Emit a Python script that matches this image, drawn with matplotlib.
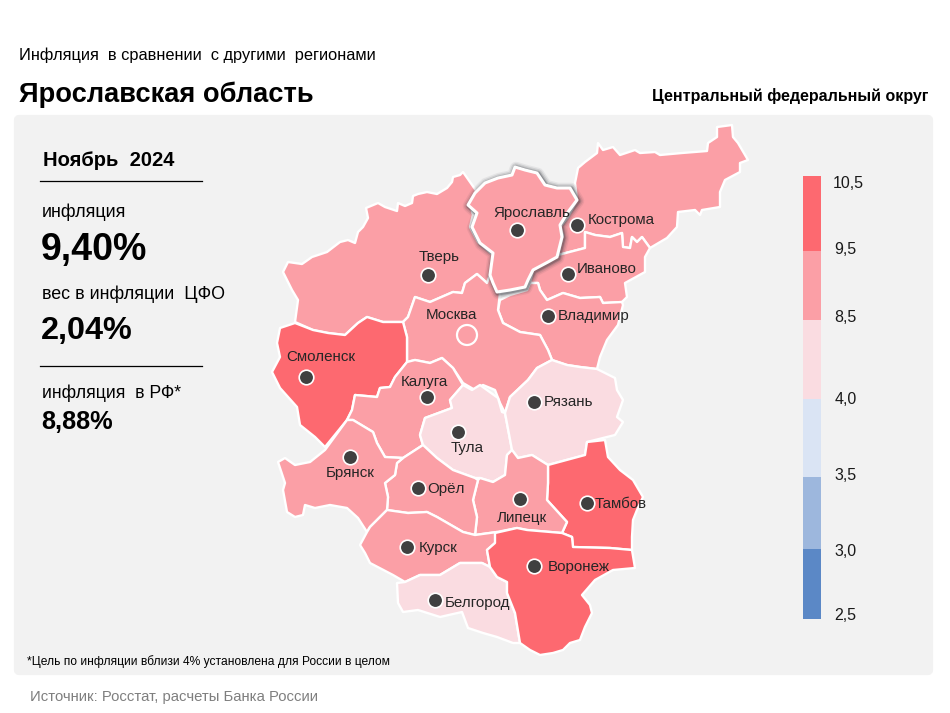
import matplotlib
matplotlib.use("Agg")
import matplotlib.pyplot as plt
from matplotlib.patches import Polygon, FancyBboxPatch, Rectangle, Circle
from matplotlib.colors import ListedColormap, BoundaryNorm

plt.rcParams['font.family'] = ['Liberation Sans', 'DejaVu Sans']

# ---------- data ----------
bin_edges = [2.5, 3.0, 3.5, 4.0, 8.5, 9.5, 10.5]
bin_labels = ['2,5', '3,0', '3,5', '4,0', '8,5', '9,5', '10,5']
bin_colors = ['#5B88C6', '#9DB7DD', '#DAE4F4', '#FADCE1', '#FB9FA6', '#FD6970']

regions = ['Тверь', 'Ярославль', 'Кострома', 'Иваново', 'Владимир', 'Москва', 'Смоленск',
           'Калуга', 'Тула', 'Рязань', 'Тамбов', 'Липецк', 'Орёл', 'Брянск', 'Курск',
           'Белгород', 'Воронеж']
values = [9.0, 9.40, 9.0, 9.0, 9.0, 9.0, 9.8, 9.0, 8.2, 8.2, 9.8, 9.0, 9.0, 9.0, 9.0, 8.2, 9.8]

outlines = {
 'Тверь': [(463,172),(460,175),(453,177),(452,182),(447,188),(437,194),(427,192),(418,194),(413,196),(412,203),(405,206),(398,203),(397,211),(385,207),(378,203),(366,208),(368,218),(363,227),(358,232),(355,243),(348,240),(340,242),(327,252),(312,257),(302,264),(288,262),(283,272),(292,290),(298,300),(295,322),(313,330),(328,333),(345,335),(358,323),(367,317),(383,322),(403,322),(408,317),(415,297),(430,302),(453,292),(462,293),(465,283),(477,274),(487,283),(492,273),(493,255),(478,242),(470,227),(473,215),(470,203),(477,192)],
 'Ярославль': [(468,205),(475,193),(485,183),(498,178),(512,175),(515,167),(525,170),(537,173),(545,185),(557,188),(570,188),(577,200),(568,212),(560,225),(562,237),(557,257),(548,262),(533,270),(528,280),(525,287),(510,290),(497,292),(493,283),(490,275),(493,253),(480,243),(472,227),(477,213)],
 'Кострома': [(577,200),(575,183),(578,168),(585,162),(597,153),(598,143),(603,150),(613,147),(620,155),(635,150),(640,153),(655,152),(660,155),(682,153),(707,151),(708,143),(717,137),(717,127),(732,125),(733,137),(738,143),(748,160),(740,163),(740,172),(725,180),(720,192),(720,207),(702,210),(700,215),(695,210),(678,212),(677,227),(667,238),(650,248),(642,237),(637,242),(632,237),(630,248),(623,247),(622,233),(610,237),(595,235),(585,232),(585,248),(558,255),(563,235),(560,227),(568,217)],
 'Иваново': [(558,255),(585,248),(585,232),(595,235),(610,237),(622,233),(623,247),(630,248),(632,237),(637,242),(642,237),(650,248),(645,257),(645,272),(625,283),(627,297),(622,302),(603,303),(600,297),(580,298),(563,293),(547,300),(540,290),(538,283),(530,283),(533,270)],
 'Владимир': [(510,295),(527,290),(530,283),(538,283),(540,290),(547,300),(563,293),(580,298),(600,297),(603,303),(622,302),(623,305),(618,325),(607,340),(600,357),(597,369),(580,367),(567,365),(552,360),(548,350),(540,335),(520,332),(503,323),(498,310),(500,300)],
 'Москва': [(415,297),(430,302),(453,292),(462,293),(465,283),(477,274),(487,283),(490,275),(500,293),(498,310),(503,323),(520,332),(540,335),(548,350),(552,360),(537,368),(528,380),(510,397),(505,413),(500,403),(495,390),(483,385),(475,390),(463,383),(453,368),(442,358),(430,363),(415,360),(407,362),(407,337),(403,322),(408,317)],
 'Смоленск': [(280,328),(295,323),(313,330),(328,333),(345,335),(358,323),(367,317),(383,322),(403,322),(407,337),(407,362),(395,377),(390,387),(380,388),(377,397),(355,395),(352,410),(347,420),(325,447),(315,437),(300,425),(297,407),(280,388),(272,372),(280,357),(277,343)],
 'Калуга': [(407,362),(415,360),(430,363),(442,358),(453,368),(463,385),(450,400),(452,408),(425,418),(420,435),(423,445),(403,458),(385,457),(377,443),(373,432),(353,420),(347,420),(352,410),(355,395),(377,397),(380,388),(390,387),(395,377)],
 'Тула': [(425,418),(452,408),(450,400),(463,385),(472,390),(480,385),(498,398),(502,412),(505,413),(512,450),(507,455),(505,475),(493,482),(480,478),(475,478),(453,470),(437,458),(423,445),(420,435)],
 'Рязань': [(510,397),(528,380),(537,368),(552,360),(567,365),(580,367),(597,369),(615,378),(617,390),(623,400),(617,417),(623,422),(615,435),(587,442),(585,455),(548,465),(532,455),(518,458),(512,450),(505,413)],
 'Тамбов': [(587,442),(605,440),(608,457),(620,470),(633,480),(643,497),(637,510),(633,520),(632,537),(632,550),(610,548),(573,547),(572,537),(562,533),(567,522),(547,500),(548,483),(548,465),(585,455)],
 'Липецк': [(480,478),(493,482),(505,475),(507,455),(512,450),(518,458),(532,455),(548,465),(548,483),(547,500),(567,522),(562,533),(527,530),(517,528),(497,532),(475,535),(477,517),(473,500),(478,480)],
 'Орёл': [(397,463),(403,458),(423,445),(437,458),(453,470),(475,478),(478,480),(473,500),(477,517),(475,535),(463,532),(437,517),(427,512),(408,513),(387,510),(388,497),(385,483),(395,475)],
 'Брянск': [(347,420),(353,420),(373,432),(377,443),(385,457),(403,458),(397,463),(395,475),(385,483),(388,497),(387,510),(370,527),(367,532),(358,518),(347,508),(330,505),(315,508),(305,505),(303,515),(295,517),(287,512),(283,490),(285,483),(278,462),(285,458),(295,465),(310,462),(325,450)],
 'Курск': [(367,532),(370,527),(387,510),(408,513),(427,512),(437,517),(463,532),(475,535),(497,532),(495,543),(487,550),(490,567),(482,563),(460,563),(440,575),(420,575),(405,582),(393,575),(370,563),(365,553),(360,545)],
 'Белгород': [(397,583),(405,582),(420,575),(440,575),(460,563),(482,563),(490,567),(497,577),(507,582),(507,593),(515,613),(520,643),(513,643),(497,637),(483,633),(468,628),(462,612),(440,617),(418,610),(403,612),(398,603)],
 'Воронеж': [(495,533),(517,528),(527,530),(562,533),(572,537),(573,547),(610,548),(632,550),(635,568),(613,570),(595,580),(582,595),(590,605),(592,613),(585,627),(580,640),(570,643),(563,650),(553,653),(540,655),(530,650),(520,643),(515,613),(507,593),(507,582),(497,577),(490,567),(487,550),(495,543)],
}

cities = ['Ярославль','Кострома','Иваново','Тверь','Владимир','Смоленск','Калуга','Рязань','Тула','Брянск','Орёл','Липецк','Тамбов','Курск','Воронеж','Белгород']
city_x = [517,577,568,428,548,306,427,534,458,350,418,520,587,407,534,435]
city_y = [230,225,274,275,316,377,397,402,432,457,488,499,503,547,566,600]
label_x = [493,588,577,419,558,286,401,544,451,326,427,497,595,419,548,445]
label_y = [213,220,269,257,316,357,382,402,448,473,489,518,504,548,567,603]

capital_x, capital_y = 467, 335
capital_label = 'Москва'

# ---------- figure ----------
fig = plt.figure(figsize=(9.5, 7.13), dpi=100)
ax = fig.add_axes([0, 0, 1, 1])
ax.set_xlim(0, 950); ax.set_ylim(713, 0); ax.axis('off')

ax.add_patch(FancyBboxPatch((16, 117), 915, 556, boxstyle='round,pad=0,rounding_size=3',
                            fc='#F2F2F2', ec='#F2F2F2', lw=3, zorder=0))

cmap = ListedColormap(bin_colors)
norm = BoundaryNorm(bin_edges, cmap.N)
val = dict(zip(regions, values))

for r in regions:
    if r == 'Ярославль':
        continue
    ax.add_patch(Polygon(outlines[r], closed=True, fc=cmap(norm(val[r])), ec='white',
                         lw=1.7, joinstyle='round', zorder=2))

# highlighted region with a soft shadow
yar = outlines['Ярославль']
for lw, a, dx, dy in [(9, .07, 1, 1), (7, .12, 1, 1), (5, .18, 1, 1), (3.5, .3, 1, 1)]:
    ax.add_patch(Polygon([(x + dx, y + dy) for x, y in yar], closed=True, fc='none',
                         ec=(0.2, 0.22, 0.25, a), lw=lw, joinstyle='round', zorder=3))
ax.add_patch(Polygon(yar, closed=True, fc=cmap(norm(val['Ярославль'])), ec='white',
                     lw=2.2, joinstyle='round', zorder=4))

# cities
ax.scatter(city_x, city_y, s=110, c='#404040', edgecolors='white', linewidths=1.2, zorder=5)
ax.add_patch(Circle((capital_x, capital_y), 10, fc='none', ec='white', lw=1.6, zorder=5))
for n, x, y in zip(cities, label_x, label_y):
    ax.text(x, y, n, fontsize=10.9, color='#262626', ha='left', va='center', zorder=6)
ax.text(426, 315, capital_label, fontsize=10.9, color='#262626', ha='left', va='center', zorder=6)

# legend
leg_edges_px = [619, 549, 477, 399, 320, 251, 176]
leg_label_y = [615, 552, 476, 400, 318, 250, 183]
leg_label_x = [834, 834, 834, 835, 834, 834, 833]
for i, c in enumerate(bin_colors):
    ax.add_patch(Rectangle((803, leg_edges_px[i + 1]), 18, leg_edges_px[i] - leg_edges_px[i + 1],
                           fc=c, ec='none', zorder=2))
for t, x, y in zip(bin_labels, leg_label_x, leg_label_y):
    ax.text(x, y, t, fontsize=11.5, color='#1a1a1a', ha='left', va='center')

# header
ax.text(19, 55, 'Инфляция  в сравнении  с другими  регионами', fontsize=11.75, color='black', va='center')
ax.text(19, 95, 'Ярославская область', fontsize=19.6, fontweight='bold', color='black', va='center')
ax.text(928, 96, 'Центральный федеральный округ', fontsize=11.55, fontweight='bold', color='black', va='center', ha='right')

# left panel
ax.text(43, 160, 'Ноябрь  2024', fontsize=14.5, fontweight='bold', color='black', va='center')
ax.plot([40, 202], [181, 181], color='black', lw=0.9)
ax.text(42, 212, 'инфляция', fontsize=12.9, color='black', va='center')
ax.text(41, 250, '9,40%', fontsize=27, fontweight='bold', color='black', va='center')
ax.text(42, 294, 'вес в инфляции  ЦФО', fontsize=12.9, color='black', va='center')
ax.text(41, 331, '2,04%', fontsize=23.3, fontweight='bold', color='black', va='center')
ax.plot([40, 202], [366, 366], color='black', lw=0.9)
ax.text(42, 393, 'инфляция  в РФ*', fontsize=12.7, color='black', va='center')
ax.text(41, 422, '8,88%', fontsize=18.3, fontweight='bold', color='black', va='center')

# footer
ax.text(27, 662, '*Цель по инфляции вблизи 4% установлена для России в целом', fontsize=8.67, color='black', va='center')
ax.text(30, 697, 'Источник: Росстат, расчеты Банка России', fontsize=10.7, color='#7f7f7f', va='center')

fig.savefig('out.png', dpi=100, facecolor='white')
